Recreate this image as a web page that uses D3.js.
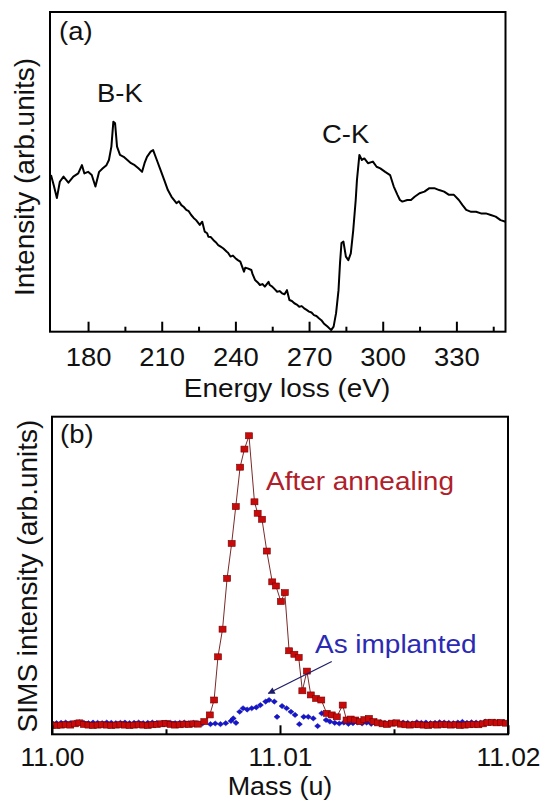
<!DOCTYPE html>
<html><head><meta charset="utf-8">
<script src="https://cdn.jsdelivr.net/npm/d3@7"></script>
<style>body{margin:0;background:#fff}svg{display:block}</style>
</head><body>
<svg id="chart" width="544" height="801"></svg>
<script>
// ---------- Panel (a): EELS spectrum ----------
const eelsEnergy = [164.9,166,167.3,168.5,170,172,174,176,177.5,178.5,180,181.5,183,184.5,186,187.5,188.5,189.5,190.3,191,191.8,193,194.5,196,197.5,199,200.5,202,203,204,205.5,206.5,208,209.5,211,212.5,214,216,217,218,219,220,221,222,223,224,225.5,226.5,227.5,228.5,229,230,231,232,233,234,235,236.5,237,238,239,240,241,242,243.5,244,245,246.5,247,248,249,250,251,252,253.5,254,255,256,257,258,259,260,261,262,263,264,265,266,267,268,269,270,271,272,273,274,275,276,277.5,279,280,281,282,282.6,283.2,284,285,286,287,288,289,289.5,290.5,291.5,292.5,294,296,297.5,299,301,303,304.5,306,307,308,310,311.5,313,315,317,319,321,323,325,327,329,331,332.5,334,336,338,340,342,344,346,348,350];
const eelsIntensity = [0.490,0.459,0.418,0.469,0.485,0.466,0.485,0.495,0.521,0.495,0.500,0.490,0.454,0.500,0.511,0.521,0.537,0.579,0.657,0.652,0.579,0.553,0.547,0.537,0.527,0.521,0.511,0.500,0.527,0.547,0.563,0.568,0.537,0.506,0.475,0.443,0.422,0.402,0.408,0.396,0.390,0.381,0.377,0.365,0.356,0.349,0.334,0.344,0.313,0.308,0.297,0.296,0.287,0.280,0.271,0.266,0.261,0.250,0.247,0.235,0.238,0.230,0.224,0.219,0.188,0.200,0.198,0.193,0.180,0.162,0.155,0.146,0.149,0.141,0.156,0.146,0.141,0.133,0.125,0.127,0.120,0.117,0.130,0.099,0.096,0.089,0.085,0.078,0.080,0.073,0.068,0.063,0.060,0.052,0.049,0.042,0.036,0.026,0.016,0.005,0.016,0.058,0.130,0.214,0.277,0.282,0.235,0.224,0.245,0.318,0.412,0.474,0.553,0.537,0.542,0.527,0.532,0.516,0.511,0.500,0.490,0.454,0.428,0.412,0.407,0.412,0.412,0.422,0.433,0.438,0.449,0.449,0.443,0.438,0.428,0.428,0.412,0.396,0.381,0.375,0.375,0.370,0.370,0.365,0.360,0.349,0.344];
const eelsMajorTicks = [180,210,240,270,300,330];
const eelsMinorTicks = [195,225,255,285,315,345];

// ---------- Panel (b): SIMS ----------
const annealMass = [11.0000,11.0002,11.0004,11.0006,11.0008,11.0010,11.0012,11.0014,11.0016,11.0018,11.0020,11.0022,11.0024,11.0026,11.0028,11.0030,11.0032,11.0034,11.0036,11.0038,11.0040,11.0042,11.0044,11.0046,11.0048,11.0050,11.0052,11.0054,11.0056,11.0058,11.0060,11.0062,11.0064,
 11.00668,11.00692,11.00711,11.00728,11.00748,11.00768,11.00788,11.00806,11.00825,11.00844,11.00864,11.00888,11.00902,11.00921,11.00942,11.00966,11.00982,11.01004,11.01021,11.01040,11.01063,11.01082,11.01098,11.01118,11.01135,11.01158,11.01181,11.01205,11.01227,11.01249,11.01275,11.01292,11.01310,11.01330,11.01351,11.01370,11.01390,11.01410,11.01430,
 11.0145,11.0147,11.0149,11.0151,11.0153,11.0155,11.0157,11.0159,11.0161,11.0163,11.0165,11.0167,11.0169,11.0171,11.0173,11.0175,11.0177,11.0179,11.0181,11.0183,11.0185,11.0187,11.0189,11.0191,11.0193,11.0195,11.0197,11.0199];
const annealIntensity = [0.029,0.028,0.029,0.030,0.029,0.033,0.036,0.031,0.029,0.028,0.029,0.030,0.029,0.028,0.029,0.030,0.029,0.028,0.029,0.030,0.029,0.028,0.030,0.031,0.033,0.034,0.031,0.029,0.030,0.032,0.031,0.033,0.032,
 0.040,0.061,0.108,0.244,0.331,0.491,0.601,0.717,0.841,0.898,0.940,0.732,0.696,0.677,0.577,0.480,0.467,0.418,0.446,0.263,0.252,0.242,0.137,0.199,0.124,0.113,0.108,0.066,0.061,0.055,0.092,0.045,0.048,0.045,0.040,0.046,0.050,0.040,0.036,
 0.033,0.031,0.035,0.036,0.032,0.030,0.029,0.031,0.030,0.029,0.028,0.030,0.029,0.031,0.030,0.029,0.030,0.028,0.029,0.030,0.031,0.030,0.033,0.037,0.038,0.036,0.037,0.035];
const implantMass = [11.0000,11.0002,11.0004,11.0006,11.0008,11.0010,11.0012,11.0014,11.0016,11.0018,11.0020,11.0022,11.0024,11.0026,11.0028,11.0030,11.0032,11.0034,11.0036,11.0038,11.0040,11.0042,11.0044,11.0046,11.0048,11.0050,11.0052,11.0054,11.0056,11.0058,11.0060,11.0062,11.0064,11.0066,
 11.00695,11.00716,11.00739,11.00762,11.00785,11.00795,11.00807,11.00823,11.00838,11.00856,11.00876,11.00896,11.00914,11.00937,11.00952,11.00975,11.00987,11.01009,11.01029,11.01048,11.01066,11.01085,11.01104,11.01124,11.01146,11.01165,11.01183,11.01202,11.01219,
 11.0124,11.0126,11.0128,11.0130,11.0132,11.0134,11.0136,11.0138,11.0140,11.0142,11.0144,11.0146,11.0148,11.0150,11.0152,11.0154,11.0156,11.0158,11.0160,11.0162,11.0164,11.0166,11.0168,11.0170,11.0172,11.0174,11.0176,11.0178,11.0180,11.0182,11.0184,11.0186,11.0188,11.0190,11.0192,11.0194,11.0196,11.0198,11.0200];
const implantIntensity = [0.036,0.035,0.036,0.037,0.035,0.036,0.038,0.036,0.035,0.037,0.036,0.035,0.037,0.036,0.035,0.036,0.037,0.035,0.036,0.037,0.035,0.036,0.037,0.036,0.035,0.037,0.036,0.035,0.036,0.037,0.035,0.036,0.035,0.034,
 0.032,0.034,0.032,0.035,0.042,0.050,0.036,0.071,0.082,0.078,0.082,0.085,0.092,0.103,0.108,0.103,0.055,0.089,0.082,0.071,0.061,0.032,0.055,0.055,0.050,0.026,0.066,0.045,0.040,
 0.036,0.034,0.037,0.033,0.035,0.038,0.034,0.037,0.033,0.036,0.038,0.035,0.036,0.038,0.035,0.037,0.036,0.034,0.038,0.036,0.037,0.035,0.036,0.038,0.037,0.036,0.035,0.037,0.039,0.036,0.038,0.037,0.036,0.040,0.038,0.039,0.037,0.038,0.036];
const massMajorTicks = [11.00, 11.01, 11.02];
const massMinorTicks = [11.005, 11.015];

// ---------- Drawing ----------
const svg = d3.select("#chart");
const FONT = "'Liberation Sans', Arial, sans-serif";
const SX = 1.055; // horizontal text stretch seen in the reference
svg.append("rect").attr("width",544).attr("height",801).attr("fill","#fff");

const A = {l:50, r:505.5, t:12, b:331.7};
const B = {l:52, r:508, t:416.7, b:734.3};

const xA = d3.scaleLinear().domain([164.5, 350]).range([A.l, A.r]);
const yA = d3.scaleLinear().domain([0, 1]).range([A.b, A.t]);
const xB = d3.scaleLinear().domain([11.00, 11.02]).range([B.l, B.r]);
const yB = d3.scaleLinear().domain([0, 1]).range([B.b, B.t]);

const defs = svg.append("defs");
defs.append("clipPath").attr("id","clipA").append("rect")
  .attr("x",A.l).attr("y",A.t).attr("width",A.r-A.l).attr("height",A.b-A.t);
defs.append("clipPath").attr("id","clipB").append("rect")
  .attr("x",B.l).attr("y",B.t).attr("width",B.r-B.l).attr("height",B.b-B.t);
defs.append("marker").attr("id","arrowhead").attr("viewBox","0 0 10 10")
  .attr("refX",9).attr("refY",5).attr("markerWidth",9).attr("markerHeight",7)
  .attr("markerUnits","userSpaceOnUse").attr("orient","auto")
  .append("path").attr("d","M0,0 L10,5 L0,10 z").attr("fill","#1c1c6a");

// Panel (a) curve
const eelsData = eelsEnergy.map((e,i)=>({x:e, y:eelsIntensity[i]}));
svg.append("path").datum(eelsData).attr("clip-path","url(#clipA)")
  .attr("fill","none").attr("stroke","#000").attr("stroke-width",2).attr("stroke-linejoin","round")
  .attr("d", d3.line().x(d=>xA(d.x)).y(d=>yA(d.y)));

// Axes helpers
function styleAxis(g){
  g.select(".domain").remove();
  g.selectAll(".tick line").attr("stroke","#000").attr("stroke-width",2);
  g.selectAll(".tick text").attr("font-family",FONT).attr("fill","#111");
}
const gAx = svg.append("g").attr("transform",`translate(0,${A.b})`)
  .call(d3.axisBottom(xA).tickValues(eelsMajorTicks).tickSize(-10).tickPadding(16).tickFormat(d3.format("d")));
styleAxis(gAx); gAx.selectAll(".tick text").attr("font-size",26).attr("transform",`scale(${SX},1)`);
const gAxm = svg.append("g").attr("transform",`translate(0,${A.b})`)
  .call(d3.axisBottom(xA).tickValues(eelsMinorTicks).tickSize(-5).tickFormat(""));
styleAxis(gAxm);
svg.append("rect").attr("x",A.l).attr("y",A.t).attr("width",A.r-A.l).attr("height",A.b-A.t)
  .attr("fill","none").attr("stroke","#000").attr("stroke-width",2);

// Panel (b) data
const implData = implantMass.map((m,i)=>({x:m, y:implantIntensity[i]}));
const annData = annealMass.map((m,i)=>({x:m, y:annealIntensity[i]}));
const gB = svg.append("g").attr("clip-path","url(#clipB)");
gB.selectAll("path.dia").data(implData).enter().append("path").attr("class","dia")
  .attr("d","M-3,0 L0,-2.6 L3,0 L0,2.6 Z")
  .attr("transform", d=>`translate(${xB(d.x)},${yB(d.y)})`)
  .attr("fill","#1414d2").attr("stroke","#0a0a90").attr("stroke-width",0.5);
gB.append("path").datum(annData).attr("fill","none").attr("stroke","#7a2a2a").attr("stroke-width",1)
  .attr("d", d3.line().x(d=>xB(d.x)).y(d=>yB(d.y)));
gB.selectAll("rect.sq").data(annData).enter().append("rect").attr("class","sq")
  .attr("x", d=>xB(d.x)-3.5).attr("y", d=>yB(d.y)-3).attr("width",7).attr("height",6)
  .attr("fill","#c80a0a").attr("stroke","#7a0000").attr("stroke-width",0.6);

// Panel (b) axes
const gBx = svg.append("g").attr("transform",`translate(0,${B.b})`)
  .call(d3.axisBottom(xB).tickValues(massMajorTicks).tickSize(-9).tickPadding(14).tickFormat(d3.format(".2f")));
styleAxis(gBx); gBx.selectAll(".tick text").attr("font-size",25).attr("transform",`scale(${SX},1)`);
const gBxm = svg.append("g").attr("transform",`translate(0,${B.b})`)
  .call(d3.axisBottom(xB).tickValues(massMinorTicks).tickSize(-5).tickFormat(""));
styleAxis(gBxm);
svg.append("rect").attr("x",B.l).attr("y",B.t).attr("width",B.r-B.l).attr("height",B.b-B.t)
  .attr("fill","none").attr("stroke","#000").attr("stroke-width",2);

// Arrow
svg.append("line")
  .attr("x1", xB(11.01227)).attr("y1", yB(0.229))
  .attr("x2", xB(11.00949)).attr("y2", yB(0.129))
  .attr("stroke","#1c1c6a").attr("stroke-width",1.2).attr("marker-end","url(#arrowhead)");

// Texts
function txt(x,y,s,size,opts={}){
  const tr = opts.rotate ? `translate(${x},${y}) rotate(-90)` : `translate(${x},${y}) scale(${SX},1)`;
  const t = svg.append("text").attr("x",0).attr("y",0).attr("transform",tr).text(s)
    .attr("font-family",FONT).attr("font-size",size).attr("fill",opts.fill||"#111");
  if(opts.anchor) t.attr("text-anchor",opts.anchor);
  return t;
}
txt(59,40,"(a)",26);
txt(60,443,"(b)",26);
txt(97,102,"B-K",26);
txt(322,143,"C-K",26);
txt(287,397,"Energy loss (eV)",26.5,{anchor:"middle"});
txt(280,795,"Mass (u)",25.5,{anchor:"middle"});
txt(266,490,"After annealing",26.5,{fill:"#b0202a"});
txt(315,653,"As implanted",26.5,{fill:"#2a2ab4"});
txt(34,177,"Intensity (arb.units)",28,{anchor:"middle",rotate:true});
txt(37,576,"SIMS intensity (arb.units)",28,{anchor:"middle",rotate:true});
</script>
</body></html>
